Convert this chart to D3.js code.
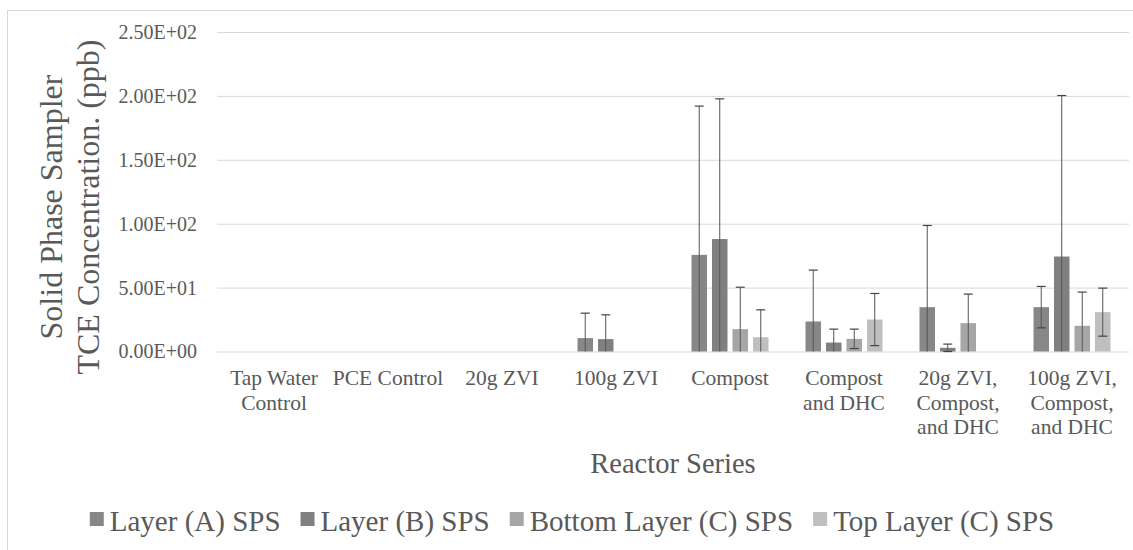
<!DOCTYPE html>
<html>
<head>
<meta charset="utf-8">
<script src="https://cdn.jsdelivr.net/npm/d3@7/dist/d3.min.js"></script>
<style>
  html, body { margin: 0; padding: 0; background: #fff; }
  svg { display: block; }
</style>
</head>
<body>
<svg id="chart" width="1133" height="550"></svg>
<script>
// ---- data ----
const categories = ["Tap Water Control", "PCE Control", "20g ZVI", "100g ZVI", "Compost",
  "Compost and DHC", "20g ZVI, Compost, and DHC", "100g ZVI, Compost, and DHC"];
const categoryLabelLines = [["Tap Water", "Control"], ["PCE Control"], ["20g ZVI"], ["100g ZVI"],
  ["Compost"], ["Compost", "and DHC"], ["20g ZVI,", "Compost,", "and DHC"], ["100g ZVI,", "Compost,", "and DHC"]];
const seriesNames = ["Layer (A) SPS", "Layer (B) SPS", "Bottom Layer (C) SPS", "Top Layer (C) SPS"];
const layerA = [0, 0, 0, 10.5, 75.6, 23.5, 34.7, 34.7];
const layerB = [0, 0, 0, 9.7, 88.0, 7.0, 2.9, 74.3];
const bottomC = [0, 0, 0, 0, 17.5, 9.9, 22.2, 20.1];
const topC = [0, 0, 0, 0, 11.2, 25.0, 0, 30.8];
const errA = [0, 0, 0, 19.5, 116.4, 40.2, 63.9, 16.2];
const errB = [0, 0, 0, 19.0, 109.7, 10.5, 2.9, 126.0];
const errBottomC = [0, 0, 0, 0, 32.8, 7.6, 22.7, 26.4];
const errTopC = [0, 0, 0, 0, 21.4, 20.4, 0, 18.8];
const yTicks = [0, 50, 100, 150, 200, 250];
const yTickLabels = ["0.00E+00", "5.00E+01", "1.00E+02", "1.50E+02", "2.00E+02", "2.50E+02"];

const seriesValues = [layerA, layerB, bottomC, topC];
const seriesErrors = [errA, errB, errBottomC, errTopC];
const colors = ["#878787", "#808080", "#a6a6a6", "#bfbfbf"];
const FONT = "'Liberation Serif', 'Times New Roman', Tinos, 'DejaVu Serif', serif";
const TEXT_COLOR = "#595959";

// ---- layout ----
const svg = d3.select("#chart");
const plot = { left: 217, right: 1129, top: 32, bottom: 351.5 };

svg.append("rect").attr("x", 7.5).attr("y", 10.5).attr("width", 1140).attr("height", 560)
  .attr("fill", "none").attr("stroke", "#d9d9d9").attr("stroke-width", 1);

const x0 = d3.scaleBand().domain(categories).range([plot.left, plot.right]).paddingInner(0).paddingOuter(0);
const groupW = 77;
const x1 = d3.scaleBand().domain(seriesNames)
  .range([(x0.bandwidth() - groupW) / 2, (x0.bandwidth() + groupW) / 2])
  .paddingInner(0.244).paddingOuter(0);
const y = d3.scaleLinear().domain([0, 250]).range([plot.bottom, plot.top]);

// gridlines + y tick labels
const yAxis = d3.axisLeft(y).tickValues(yTicks).tickSize(-(plot.right - plot.left))
  .tickFormat((d, i) => yTickLabels[i]).tickPadding(20);
const gy = svg.append("g").attr("transform", `translate(${plot.left},0)`).call(yAxis)
  .attr("font-family", null).attr("font-size", null);
gy.select(".domain").remove();
gy.selectAll(".tick line").attr("stroke", "#d9d9d9").attr("stroke-width", 1);
gy.selectAll(".tick text").attr("fill", TEXT_COLOR)
  .style("font-family", FONT).style("font-size", "20px");

// category axis labels
const xAxis = d3.axisBottom(x0).tickSize(0).tickFormat("");
const gx = svg.append("g").attr("transform", `translate(0,${plot.bottom})`).call(xAxis)
  .attr("font-family", null).attr("font-size", null);
gx.select(".domain").remove();
gx.selectAll(".tick").each(function (d, i) {
  const t = d3.select(this).append("text").attr("text-anchor", "middle")
    .style("font-family", FONT).style("font-size", "21.5px").attr("fill", TEXT_COLOR);
  categoryLabelLines[i].forEach((ln, j) => {
    t.append("tspan").attr("x", 0).attr("y", 33.5 + j * 24.5).text(ln);
  });
});

// bars
const groups = svg.append("g").selectAll("g.cat").data(categories).join("g")
  .attr("class", "cat").attr("transform", d => `translate(${x0(d)},0)`);

seriesNames.forEach((s, si) => {
  groups.append("rect")
    .attr("x", x1(s))
    .attr("width", x1.bandwidth())
    .attr("y", (d, ci) => y(seriesValues[si][ci]))
    .attr("height", (d, ci) => y(0) - y(seriesValues[si][ci]))
    .attr("fill", colors[si]);
});

// error bars
const capW = 9;
seriesNames.forEach((s, si) => {
  groups.each(function (d, ci) {
    const v = seriesValues[si][ci], e = seriesErrors[si][ci];
    if (e <= 0) return;
    const g = d3.select(this);
    const cx = x1(s) + x1.bandwidth() / 2;
    const lo = v - e, hi = v + e;
    const yl = y(Math.max(0, lo)), yh = y(hi);
    g.append("line").attr("x1", cx).attr("x2", cx).attr("y1", yl).attr("y2", yh)
      .attr("stroke", "#555").attr("stroke-width", 1);
    g.append("line").attr("x1", cx - capW / 2).attr("x2", cx + capW / 2).attr("y1", yh).attr("y2", yh)
      .attr("stroke", "#444").attr("stroke-width", 1.2);
    if (lo >= 0) {
      g.append("line").attr("x1", cx - capW / 2).attr("x2", cx + capW / 2).attr("y1", yl).attr("y2", yl)
        .attr("stroke", "#444").attr("stroke-width", 1.2);
    }
  });
});

// axis titles
const yMid = 207;
function addText(sel) { return sel.style("font-family", FONT).attr("fill", TEXT_COLOR); }
addText(svg.append("text")).attr("transform", `translate(62,${yMid}) rotate(-90)`).attr("text-anchor", "middle")
  .style("font-size", "32px").text("Solid Phase Sampler");
addText(svg.append("text")).attr("transform", `translate(99,${yMid}) rotate(-90)`).attr("text-anchor", "middle")
  .style("font-size", "32px").text("TCE Concentration. (ppb)");
addText(svg.append("text")).attr("x", (plot.left + plot.right) / 2).attr("y", 472.5).attr("text-anchor", "middle")
  .style("font-size", "28.5px").text("Reactor Series");

// legend
const legend = svg.append("g");
const items = [];
seriesNames.forEach((s, i) => {
  const g = legend.append("g");
  g.append("rect").attr("x", 0).attr("y", -19).attr("width", 14).attr("height", 14).attr("fill", colors[i]);
  const t = addText(g.append("text")).attr("x", 20).attr("y", 0).style("font-size", "29px").text(s);
  items.push({ g, w: 20 + t.node().getComputedTextLength() });
});
const gap = 20;
const totalW = d3.sum(items, d => d.w) + gap * (items.length - 1);
let start = 572 - totalW / 2;
items.forEach(it => { it.g.attr("transform", `translate(${start},531)`); start += it.w + gap; });
</script>
</body>
</html>
